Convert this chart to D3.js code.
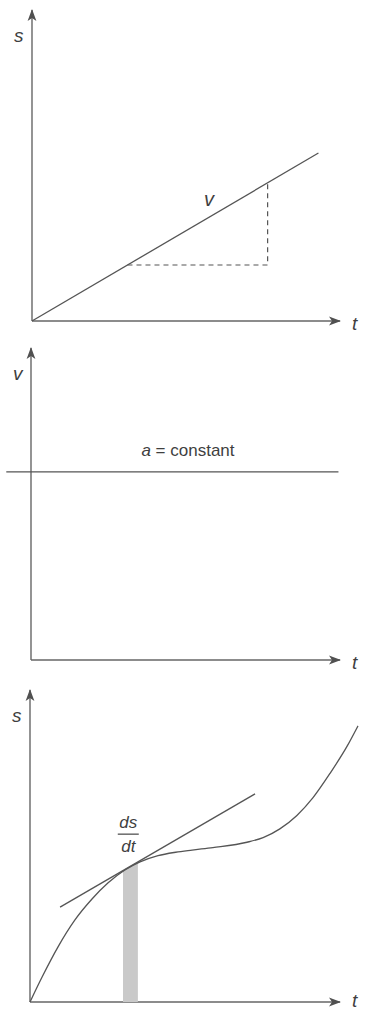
<!DOCTYPE html>
<html>
<head>
<meta charset="utf-8">
<script src="https://cdn.jsdelivr.net/npm/d3@7"></script>
<style>
  body { margin: 0; background: #fff; }
  text { font-family: "Liberation Sans", Arial, sans-serif; fill: #3f3f3f; }
  .lbl { font-style: italic; }
</style>
</head>
<body>
<div id="canvas"></div>
<script>
// Panel 1: s-t graph, straight line with slope triangle
var sLine = [[0, 0], [9.3, 5.4]];
var slopeTri = [[3.1, 1.8], [7.65, 1.8], [7.65, 4.44]];
var vLabelPos = [5.75, 3.7];

// Panel 2: v-t graph, constant value
var vConst = [[-0.8, 6.03], [9.95, 6.03]];
var constLabelPos = [5.08, 6.54];

// Panel 3: s-t curve with tangent and a thin strip
var curveT = [0, 0.39, 0.9, 1.45, 2.0, 2.52, 3.06, 3.55, 4.13, 4.7, 5.23, 5.9, 7.0, 7.52, 8.06, 8.61, 9.13, 9.68, 10.23, 10.58];
var curveS = [0, 0.8, 1.76, 2.63, 3.3, 3.82, 4.23, 4.49, 4.69, 4.8, 4.87, 4.95, 5.12, 5.27, 5.55, 5.98, 6.55, 7.33, 8.2, 8.85];
var tangent = [[0.97, 3.04], [7.26, 6.67]];
var bandT = [3.0, 3.48];
var bandS = [4.2, 4.46];
var dsdtPos = [3.17, 5.38];

var width = 367, height = 1011;
var lineColor = "#555";
var axisColor = "#666";

var svg = d3.select("#canvas")
    .append("svg")
        .attr("width", width)
        .attr("height", height);

// arrow head marker
svg.append("defs").append("marker")
    .attr("id", "arrow")
    .attr("viewBox", "0 0 12 10")
    .attr("refX", 11)
    .attr("refY", 5)
    .attr("markerWidth", 13)
    .attr("markerHeight", 10)
    .attr("markerUnits", "userSpaceOnUse")
    .attr("orient", "auto")
  .append("path")
    .attr("d", "M0,0.6 L12,5 L0,9.4 L3,5 Z")
    .attr("fill", "#505050");

var line = d3.line().x(d => d[0]).y(d => d[1]);

function makePanel(ox, oy, xTip, yTip, yName, xName, xLabDy) {
    var x = d3.scaleLinear().domain([0, 10]).range([ox, xTip]);
    var y = d3.scaleLinear().domain([0, 10]).range([oy, yTip]);
    var g = svg.append("g");
    // axes
    g.append("line")
        .attr("x1", ox).attr("y1", oy)
        .attr("x2", xTip).attr("y2", oy)
        .attr("stroke", axisColor).attr("stroke-width", 1.4)
        .attr("marker-end", "url(#arrow)");
    g.append("line")
        .attr("x1", ox).attr("y1", oy)
        .attr("x2", ox).attr("y2", yTip)
        .attr("stroke", axisColor).attr("stroke-width", 1.4)
        .attr("marker-end", "url(#arrow)");
    g.append("text").attr("class", "lbl")
        .attr("x", ox - 18).attr("y", yTip + 32)
        .attr("font-size", 19).text(yName);
    g.append("text").attr("class", "lbl")
        .attr("x", xTip + 12).attr("y", oy + xLabDy)
        .attr("font-size", 19).text(xName);
    return {g: g, x: x, y: y};
}

// ---- Panel 1 ----
var p1 = makePanel(32, 321, 340, 10, "s", "t", 9);
p1.g.append("path")
    .attr("d", line(sLine.map(d => [p1.x(d[0]), p1.y(d[1])])))
    .attr("fill", "none").attr("stroke", lineColor).attr("stroke-width", 1.3);
p1.g.append("path")
    .attr("d", line(slopeTri.map(d => [p1.x(d[0]), p1.y(d[1])])))
    .attr("fill", "none").attr("stroke", lineColor).attr("stroke-width", 1.2)
    .attr("stroke-dasharray", "5,4");
p1.g.append("text").attr("class", "lbl")
    .attr("x", p1.x(vLabelPos[0])).attr("y", p1.y(vLabelPos[1]))
    .attr("text-anchor", "middle").attr("font-size", 20).text("v");

// ---- Panel 2 ----
var p2 = makePanel(31, 660, 340, 348, "v", "t", 9);
p2.g.append("path")
    .attr("d", line(vConst.map(d => [p2.x(d[0]), p2.y(d[1])])))
    .attr("fill", "none").attr("stroke", lineColor).attr("stroke-width", 1.3);
var ct = p2.g.append("text")
    .attr("x", p2.x(constLabelPos[0])).attr("y", p2.y(constLabelPos[1]))
    .attr("text-anchor", "middle").attr("font-size", 17);
ct.append("tspan").attr("font-style", "italic").text("a");
ct.append("tspan").text(" = constant");

// ---- Panel 3 ----
var p3 = makePanel(30, 1002, 340, 690, "s", "t", 5);
// strip under the curve
p3.g.append("path")
    .attr("d", line([
        [p3.x(bandT[0]), p3.y(0)],
        [p3.x(bandT[0]), p3.y(bandS[0])],
        [p3.x(bandT[1]), p3.y(bandS[1])],
        [p3.x(bandT[1]), p3.y(0)]
    ]) + "Z")
    .attr("fill", "#c9c9c9");
var curve = d3.line()
    .x(d => p3.x(d[0]))
    .y(d => p3.y(d[1]))
    .curve(d3.curveMonotoneX);
p3.g.append("path")
    .attr("d", curve(curveT.map((t, i) => [t, curveS[i]])))
    .attr("fill", "none").attr("stroke", lineColor).attr("stroke-width", 1.3);
p3.g.append("path")
    .attr("d", line(tangent.map(d => [p3.x(d[0]), p3.y(d[1])])))
    .attr("fill", "none").attr("stroke", lineColor).attr("stroke-width", 1.3);
// ds/dt fraction
var fx = p3.x(dsdtPos[0]), fy = p3.y(dsdtPos[1]);
p3.g.append("text").attr("class", "lbl")
    .attr("x", fx).attr("y", fy - 6)
    .attr("text-anchor", "middle").attr("font-size", 17).text("ds");
p3.g.append("line")
    .attr("x1", fx - 10.5).attr("x2", fx + 10.5)
    .attr("y1", fy).attr("y2", fy)
    .attr("stroke", "#444").attr("stroke-width", 1.2);
p3.g.append("text").attr("class", "lbl")
    .attr("x", fx).attr("y", fy + 18)
    .attr("text-anchor", "middle").attr("font-size", 17).text("dt");
</script>
</body>
</html>
